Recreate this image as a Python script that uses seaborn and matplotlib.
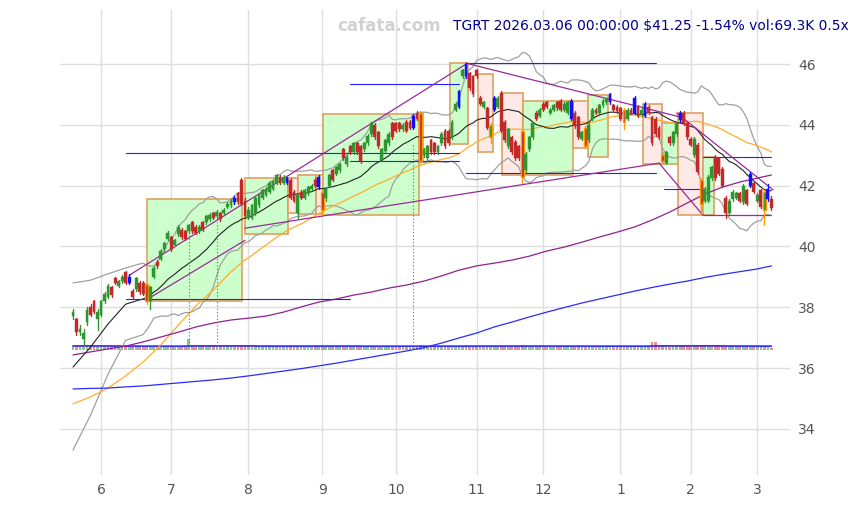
import numpy as np
import pandas as pd
import matplotlib
matplotlib.use("Agg")
import matplotlib.pyplot as plt
import seaborn as sns
from matplotlib.patches import Rectangle

# ---------------- data ----------------
holidays = ["2025-05-26", "2025-06-19", "2025-07-04", "2025-09-01", "2025-11-27",
            "2025-12-25", "2026-01-01", "2026-01-19", "2026-02-16"]
dates = pd.bdate_range("2025-05-20", "2026-03-06", freq="C", holidays=holidays)

opens = [
37.70,37.60,37.20,36.95,37.50,38.00,38.20,37.60,37.75,38.20,
38.35,38.65,38.95,38.70,38.85,39.15,38.80,38.55,38.60,38.80,
38.80,38.75,38.20,39.00,39.50,39.60,39.90,40.25,40.30,40.05,
40.40,40.55,40.50,40.50,40.80,40.65,40.50,40.80,40.80,40.90,
41.10,41.00,41.10,41.10,41.30,41.35,41.45,41.75,42.20,41.50,
40.95,40.95,41.10,41.35,41.60,41.70,41.80,41.90,42.10,42.30,
42.10,42.10,42.20,41.80,41.10,41.80,41.60,41.75,41.90,42.20,
41.95,41.80,41.60,42.00,42.50,42.40,42.50,43.20,42.70,43.30,
43.10,43.40,43.30,43.20,43.40,43.70,44.00,43.75,42.85,43.15,
43.40,44.05,44.05,44.05,43.85,44.10,44.10,43.90,44.40,44.40,
43.00,42.90,43.50,43.40,43.10,43.40,43.80,43.80,43.60,44.50,
44.60,45.60,45.60,45.70,45.60,45.80,44.90,44.60,44.55,43.60,
44.50,44.60,45.05,44.10,43.30,43.60,43.45,43.30,43.80,42.50,
43.20,43.60,44.40,44.30,44.70,44.75,44.40,44.50,44.75,44.80,
44.50,44.40,44.20,44.40,44.25,43.55,43.90,43.50,44.20,44.50,
44.40,44.65,44.75,44.75,44.65,44.60,44.55,44.50,44.20,44.50,
44.40,44.60,44.35,44.30,44.60,44.25,44.20,43.90,43.00,42.75,
43.60,43.40,43.70,44.15,44.40,44.05,43.55,43.00,43.35,42.20,
41.50,41.50,42.25,42.95,42.90,42.55,41.60,41.10,41.55,41.60,
41.75,41.45,41.85,42.00,42.10,41.50,41.85,41.20,41.55,41.55,
]
highs = [
37.95,37.65,37.40,37.30,38.00,38.10,38.25,37.95,38.25,38.50,
38.75,38.70,39.00,38.90,39.05,39.20,39.10,38.60,39.00,38.85,
38.85,38.80,38.70,39.35,39.55,39.90,40.15,40.50,40.35,40.25,
40.70,40.60,40.55,40.75,40.85,40.70,40.70,40.85,41.05,41.10,
41.15,41.20,41.15,41.25,41.45,41.55,41.65,41.80,42.25,41.60,
41.30,41.40,41.65,41.75,41.90,41.95,42.15,42.20,42.40,42.35,
42.35,42.30,42.25,41.85,41.75,41.85,41.90,42.00,42.05,42.25,
42.35,41.85,41.95,42.40,42.55,42.65,42.75,43.25,43.00,43.35,
43.45,43.45,43.35,43.45,43.70,44.10,44.05,43.80,43.25,43.55,
43.75,44.10,44.10,44.10,44.05,44.15,44.15,44.35,44.45,44.45,
43.25,43.35,43.55,43.45,43.35,43.75,43.85,43.85,44.15,44.75,
45.15,45.85,46.05,45.75,45.65,45.85,44.95,44.80,44.60,44.05,
44.95,44.95,45.10,44.15,43.90,43.65,43.50,43.35,43.85,43.10,
43.65,44.10,44.45,44.55,44.75,44.80,44.55,44.70,44.80,44.85,
44.75,44.80,44.85,44.45,44.30,43.80,43.95,44.05,44.55,44.55,
44.70,44.85,44.90,45.05,44.70,44.65,44.60,44.55,44.55,44.55,
44.95,44.65,44.55,44.75,44.65,44.30,44.25,43.95,43.10,43.15,
43.65,43.80,44.10,44.45,44.45,44.10,43.60,43.60,43.40,42.25,
41.95,42.35,42.65,43.00,42.95,42.60,41.65,41.55,41.85,41.80,
41.80,42.05,41.90,42.45,42.15,41.75,41.90,41.85,42.05,41.65,
]
lows = [
37.60,37.10,37.10,36.75,37.40,37.70,37.80,37.25,37.70,38.15,
38.30,38.35,38.75,38.65,38.80,38.75,38.75,38.30,38.55,38.45,
38.40,38.10,37.95,38.95,39.30,39.55,39.85,40.20,39.85,40.00,
40.35,40.25,40.20,40.45,40.45,40.40,40.45,40.50,40.75,40.85,
40.90,40.95,40.85,41.05,41.25,41.30,41.40,41.40,41.35,40.95,
40.90,40.90,41.05,41.30,41.55,41.65,41.75,41.85,42.05,42.05,
42.05,42.05,41.55,41.45,40.95,41.55,41.55,41.70,41.85,41.95,
41.90,41.05,41.50,41.95,42.15,42.35,42.45,42.85,42.65,43.05,
43.05,43.05,42.75,43.15,43.35,43.65,43.55,43.25,42.80,43.10,
43.35,43.55,43.75,43.80,43.80,43.75,43.85,43.85,44.15,42.75,
42.95,42.80,43.05,43.05,43.05,43.35,43.25,43.35,43.55,44.45,
44.55,45.55,45.55,45.15,44.95,45.55,44.65,44.55,43.85,43.40,
44.45,44.55,43.75,43.45,43.25,43.05,42.85,42.85,42.10,42.45,
43.15,43.55,44.15,44.25,44.45,44.55,44.35,44.45,44.50,44.45,
44.45,44.35,44.15,43.90,43.55,43.50,43.25,43.45,44.15,44.35,
44.35,44.60,44.70,44.70,44.45,44.40,44.15,43.85,44.15,44.35,
44.35,44.25,44.30,44.25,44.35,43.35,43.65,43.55,42.75,42.70,
43.35,43.35,43.65,44.10,44.00,43.55,43.30,42.95,42.40,41.05,
41.45,41.45,42.20,42.20,42.35,41.95,40.95,41.05,41.50,41.55,
41.45,41.40,41.35,41.95,41.75,41.45,41.25,40.70,41.50,41.20,
]
closes = [
37.85,37.20,37.30,37.15,37.90,37.75,37.85,37.85,38.20,38.45,
38.70,38.40,38.80,38.85,39.00,38.80,39.00,38.35,38.95,38.50,
38.45,38.20,38.65,39.30,39.35,39.85,40.10,40.45,39.90,40.20,
40.65,40.30,40.25,40.70,40.50,40.45,40.65,40.55,41.00,41.05,
40.95,41.15,40.90,41.20,41.40,41.50,41.60,41.45,41.40,41.00,
41.20,41.35,41.60,41.70,41.85,41.90,42.10,42.15,42.35,42.10,
42.30,42.25,41.60,41.50,41.70,41.60,41.85,41.95,42.00,42.00,
42.30,41.20,41.90,42.35,42.20,42.60,42.70,42.90,42.95,43.10,
43.40,43.10,42.80,43.40,43.65,44.05,43.60,43.30,43.20,43.50,
43.70,43.60,43.80,43.85,44.00,43.80,43.90,44.30,44.20,42.80,
43.20,43.30,43.10,43.10,43.30,43.70,43.30,43.40,44.10,44.70,
45.10,45.80,46.00,45.20,45.00,45.60,44.70,44.75,43.90,44.00,
44.90,44.90,43.80,43.50,43.85,43.10,42.90,42.90,42.30,43.05,
43.60,44.05,44.20,44.50,44.50,44.60,44.50,44.65,44.55,44.50,
44.70,44.75,44.80,43.95,43.60,43.75,43.30,44.00,44.50,44.40,
44.65,44.80,44.85,45.00,44.50,44.45,44.20,44.10,44.50,44.40,
44.90,44.30,44.50,44.70,44.40,43.40,43.70,43.60,42.80,43.10,
43.40,43.75,44.05,44.40,44.05,43.60,43.35,43.55,42.45,41.40,
41.90,42.30,42.60,42.25,42.40,42.00,41.10,41.50,41.80,41.75,
41.50,42.00,41.40,42.40,41.80,41.70,41.30,41.80,41.89,41.25,
]
volumes_k = [
150,160,140,170,150,130,140,150,160,140, 150,130,140,120,130,150,140,130,150,140,
130,160,150,140,130,140,150,130,140,150, 130,140,150,420,140,130,150,140,130,140,
150,160,140,130,140,150,130,140,160,150, 140,130,150,140,130,140,150,130,140,150,
140,130,150,140,160,130,140,150,130,140, 150,160,140,130,140,150,130,140,150,140,
130,140,150,130,140,150,140,130,150,140, 130,140,150,140,130,140,150,140,130,170,
150,140,130,140,150,130,140,150,140,150, 160,150,170,150,140,130,150,140,150,160,
140,130,160,150,140,130,140,150,170,150, 140,130,150,140,130,140,150,130,140,150,
130,140,150,140,150,130,150,140,130,140, 150,130,140,150,140,130,140,150,130,140,
150,140,130,140,150,300,290,150,160,140, 130,140,150,140,150,140,130,140,160,170,
150,140,130,150,140,150,160,140,130,140, 150,140,130,140,150,140,130,150,140,69.3,
]
pivot_high = [16, 46, 61, 70, 97, 110, 112, 120, 142, 153, 160, 163, 173, 193, 198]
pivot_low = [21, 71, 99, 119, 128, 146, 157, 168, 179, 197]

# moving-average values read from the chart where the window is not yet full
early_idx = [0, 5, 10, 15]
sma20_early = [36.03, 36.69, 37.45, 38.10]
bbup_early = [38.80, 38.89, 39.10, 39.29]
bblo_early = [33.30, 34.45, 35.80, 36.91]
sma50_early_idx = [0, 5, 10, 15, 20, 25, 30, 35, 40, 45]
sma50_early = [34.82, 35.05, 35.34, 35.74, 36.20, 36.76, 37.41, 38.04, 38.57, 39.16]

# long averages every 5 sessions
long_idx = list(range(0, 200, 5)) + [199]
purple_ma = [36.43, 36.53, 36.63, 36.72, 36.86, 37.02, 37.18, 37.35, 37.48, 37.58,
             37.64, 37.71, 37.84, 38.01, 38.17, 38.27, 38.40, 38.50, 38.63, 38.73,
             38.86, 39.03, 39.22, 39.36, 39.45, 39.55, 39.68, 39.85, 39.98, 40.14,
             40.31, 40.47, 40.64, 40.87, 41.13, 41.43, 41.72, 41.95, 42.12, 42.25, 42.35]
blue_ma = [35.31, 35.33, 35.34, 35.38, 35.41, 35.46, 35.51, 35.56, 35.61, 35.67,
           35.74, 35.82, 35.90, 35.98, 36.07, 36.16, 36.26, 36.36, 36.46, 36.56,
           36.67, 36.82, 36.99, 37.15, 37.35, 37.51, 37.68, 37.84, 37.99, 38.14,
           38.27, 38.40, 38.53, 38.65, 38.76, 38.86, 38.98, 39.08, 39.17, 39.26, 39.36]

# pattern boxes (session index range, price range, up=1 green / 0 pink)
box_i0 = [21, 49, 61.3, 64.1, 69.3, 71.2, 98.6, 107.4, 115.4, 122.2, 128.2, 142.5, 146.7, 162.4, 167.8, 172.4, 179.5]
box_i1 = [48.1, 61.3, 64.1, 69.3, 71.2, 98.6, 99.7, 112.5, 119.7, 128.2, 142.5, 146.7, 152.4, 167.8, 172.4, 179.5, 182.6]
box_lo = [38.20, 40.41, 41.10, 41.07, 41.07, 41.03, 42.80, 43.37, 43.10, 42.35, 42.35, 43.24, 42.94, 42.71, 42.71, 41.03, 41.03]
box_hi = [41.56, 42.25, 42.25, 42.35, 42.35, 44.36, 44.40, 46.03, 45.67, 45.05, 44.78, 44.78, 44.98, 44.68, 44.06, 44.39, 42.94]
box_up = [1, 1, 0, 1, 0, 1, 0, 1, 0, 0, 1, 0, 1, 0, 1, 0, 1]

# trend lines (purple)
tl_i0 = [16, 21, 49, 167, 112, 172, 179.5]
tl_p0 = [39.05, 38.25, 40.60, 42.74, 46.03, 44.39, 41.03]
tl_i1 = [112, 49, 167, 179.5, 173, 199.5, 199]
tl_p1 = [46.00, 40.20, 42.74, 41.03, 44.26, 41.86, 41.03]

# horizontal levels (blue)
hl_p = [38.27, 43.07, 45.34, 42.80, 46.03, 42.41, 42.94, 41.89]
hl_i0 = [15, 15, 79, 79, 112, 112, 179.5, 168.5]
hl_i1 = [79, 110, 110, 110, 166, 166, 199, 179]

# dotted volume-spike markers
spike_idx = [33, 41, 97]
spike_top = [40.44, 40.80, 43.40]

title_txt = "TGRT 2026.03.06 00:00:00 $41.25 -1.54% vol:69.3K 0.5x"

# ---------------- plotting ----------------
sns.set_style("whitegrid")
plt.rcParams['font.family'] = ['DejaVu Sans']

fig = plt.figure(figsize=(8.59, 5.05), dpi=100)
ax = fig.add_axes([60 / 859, 30 / 505, 730 / 859, 465 / 505])
ax.set_facecolor("white")

n = len(closes)
idx = np.arange(n)
df = pd.DataFrame({"date": dates[:n], "open": opens, "high": highs, "low": lows,
                   "close": closes, "vol": volumes_k}, index=idx)

GREEN = "#2e962e"
RED = "#c22a2a"

# boxes
for a, b, lo, hi, up in zip(box_i0, box_i1, box_lo, box_hi, box_up):
    ax.add_patch(Rectangle((a, lo), b - a, hi - lo,
                           facecolor="#ccffcc" if up else "#fde9e6",
                           edgecolor="#e0a060", linewidth=1.2, zorder=1))

# volume bars
vbase = 36.59
vk = 0.0009
vcol = [("#7dbf7d" if c >= o else "#df8585") for o, c in zip(opens, closes)]
ax.bar(idx, np.array(volumes_k) * vk, bottom=vbase, width=0.78, color=vcol,
       alpha=0.9, zorder=2, linewidth=0)
vol_ma20 = pd.Series(volumes_k).rolling(20, min_periods=1).mean() * vk + vbase
vol_ma50 = pd.Series(volumes_k).rolling(50, min_periods=1).mean() * vk + vbase
sns.lineplot(x=idx, y=vol_ma50.values, ax=ax, color="#8b208b", linewidth=0.9, zorder=3)
sns.lineplot(x=idx, y=vol_ma20.values, ax=ax, color="#3030ff", linewidth=1.0, zorder=3)

# moving averages
cs = pd.Series(closes)
sma20 = cs.rolling(20).mean()
sd20 = cs.rolling(20).std(ddof=0)
sma50 = cs.rolling(50).mean()
x20 = early_idx + list(range(19, n))
sns.lineplot(x=x20, y=bbup_early + list((sma20 + 2 * sd20)[19:]),
             ax=ax, color="#a0a0a0", linewidth=0.9, zorder=3, sort=False, estimator=None)
sns.lineplot(x=x20, y=bblo_early + list((sma20 - 2 * sd20)[19:]),
             ax=ax, color="#a0a0a0", linewidth=0.9, zorder=3, sort=False, estimator=None)
sns.lineplot(x=x20, y=sma20_early + list(sma20[19:]),
             ax=ax, color="#222222", linewidth=0.8, zorder=4, sort=False, estimator=None)
x50 = sma50_early_idx + list(range(49, n))
sns.lineplot(x=x50, y=sma50_early + list(sma50[49:]),
             ax=ax, color="#ffae2a", linewidth=0.9, zorder=3, sort=False, estimator=None)
sns.lineplot(x=long_idx, y=purple_ma, ax=ax, color="#902090", linewidth=0.9, zorder=3,
             sort=False, estimator=None)
sns.lineplot(x=long_idx, y=blue_ma, ax=ax, color="#2a2aff", linewidth=0.9, zorder=3,
             sort=False, estimator=None)

# levels & trend lines
for p, a, b in zip(hl_p, hl_i0, hl_i1):
    ax.plot([a, b], [p, p], color="#2020ff", linewidth=0.8, zorder=4)
for a, pa, b, pb in zip(tl_i0, tl_p0, tl_i1, tl_p1):
    ax.plot([a, b], [pa, pb], color="#9a2a9a", linewidth=0.9, zorder=4)
for i, t in zip(spike_idx, spike_top):
    ax.plot([i, i], [vbase + 0.12, t], color="#2f9a2f", linewidth=0.8,
            linestyle=(0, (1, 2)), zorder=4)

# candles
for i in idx:
    o, h, l, c = opens[i], highs[i], lows[i], closes[i]
    col = GREEN if c >= o else RED
    edge = col
    if i in pivot_high:
        col = "#1010ff"
        edge = "#1010ff"
    elif i in pivot_low:
        edge = "#ff9900"
    ax.plot([i, i], [l, h], color=edge if i in pivot_low else col, linewidth=1.0, zorder=5)
    lo_b, hi_b = min(o, c), max(o, c)
    ax.add_patch(Rectangle((i - 0.4, lo_b), 0.8, max(hi_b - lo_b, 0.03),
                           facecolor=col, edgecolor=edge, linewidth=1.0 if i in pivot_low else 0.3,
                           zorder=6))

# axes cosmetics
ax.set_xlim(-3.7, 204.3)
ax.set_ylim(32.48, 47.78)
month_first = df.groupby([df["date"].dt.year, df["date"].dt.month]).head(1)
month_first = month_first[month_first.index > 0]
ax.set_xticks(month_first.index)
ax.set_xticklabels([str(m) for m in month_first["date"].dt.month])
ax.set_yticks([34, 36, 38, 40, 42, 44, 46])
ax.yaxis.tick_right()
ax.tick_params(axis="both", length=0, labelsize=10, labelcolor="#555555", pad=6)
ax.grid(True, color="#dedede", linewidth=1)
for s in ax.spines.values():
    s.set_visible(False)
ax.set_xlabel("")
ax.set_ylabel("")

fig.text(389 / 859, 1 - 26 / 505, "cafata.com", ha="center", va="center",
         fontsize=12, fontweight="bold", color="#d2d2d2")
fig.text(849 / 859, 1 - 26 / 505, title_txt, ha="right", va="center",
         fontsize=10, color="#00008b")

fig.savefig("out.png", dpi=100)
